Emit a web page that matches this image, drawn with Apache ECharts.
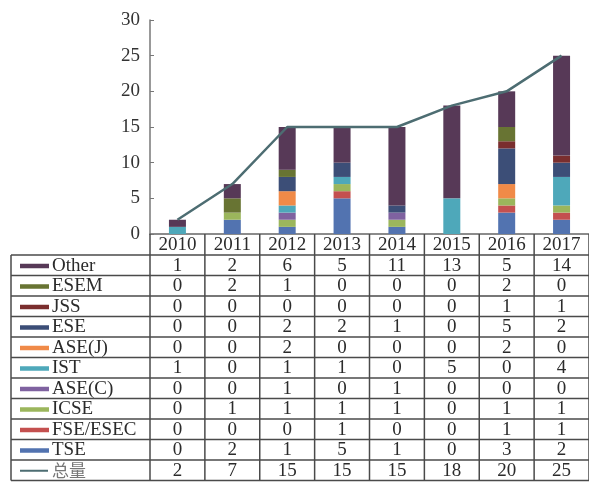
<!DOCTYPE html>
<html>
<head>
<meta charset="utf-8">
<script src="https://cdn.jsdelivr.net/npm/echarts@6/dist/echarts.min.js"></script>
<style>
html,body{margin:0;padding:0;background:#fff;}
#main{width:589px;height:482px;}
</style>
</head>
<body>
<div id="main"></div>
<script>
const years = ['2010','2011','2012','2013','2014','2015','2016','2017'];
const other = [1,2,6,5,11,13,5,14];
const esem  = [0,2,1,0,0,0,2,0];
const jss   = [0,0,0,0,0,0,1,1];
const ese   = [0,0,2,2,1,0,5,2];
const asej  = [0,0,2,0,0,0,2,0];
const ist   = [1,0,1,1,0,5,0,4];
const asec  = [0,0,1,0,1,0,0,0];
const icse  = [0,1,1,1,1,0,1,1];
const fse   = [0,0,0,1,0,0,1,1];
const tse   = [0,2,1,5,1,0,3,2];
const total = [2,7,15,15,15,18,20,25];
const yTicks = [0,5,10,15,20,25,30];

// stacking order bottom -> top
const barSeries = [
  {name:'TSE', data:tse, color:'#5273b0'},
  {name:'FSE/ESEC', data:fse, color:'#c4504f'},
  {name:'ICSE', data:icse, color:'#9bb65c'},
  {name:'ASE(C)', data:asec, color:'#7f62a0'},
  {name:'IST', data:ist, color:'#4ea8ba'},
  {name:'ASE(J)', data:asej, color:'#f08a48'},
  {name:'ESE', data:ese, color:'#3c4e77'},
  {name:'JSS', data:jss, color:'#7a2e2e'},
  {name:'ESEM', data:esem, color:'#687433'},
  {name:'Other', data:other, color:'#573957'}
];
const lineSeries = {name:'总量', data:total, color:'#4d6d72'};
// table row order
const tableRows = ['Other','ESEM','JSS','ESE','ASE(J)','IST','ASE(C)','ICSE','FSE/ESEC','TSE','总量'];

const FONT = '"Liberation Serif","Times New Roman",serif';
const chart = echarts.init(document.getElementById('main'), null, {renderer:'canvas'});
const series = barSeries.map(s => ({
  name: s.name, type:'bar', stack:'all', data:s.data, barWidth:17,
  itemStyle:{color:s.color}
}));
series.push({
  name: lineSeries.name, type:'line', data: lineSeries.data, symbol:'none',
  lineStyle:{color:lineSeries.color, width:2.5}, itemStyle:{color:lineSeries.color}, z:5
});
chart.setOption({
  animation:false,
  backgroundColor:'#ffffff',
  grid:{left:150, top:20, width:446, height:214, containLabel:false},
  xAxis:{type:'category', data:years, boundaryGap:true,
    axisLine:{show:true, lineStyle:{color:'#666', width:1.5}},
    axisTick:{show:false}, axisLabel:{show:false}},
  yAxis:{type:'value', min:0, max:30, interval:5,
    axisLine:{show:true, lineStyle:{color:'#777', width:1.5}},
    axisTick:{show:true, inside:true, length:4, lineStyle:{color:'#777'}},
    splitLine:{show:false},
    axisLabel:{fontFamily:FONT, fontSize:19, color:'#333', margin:10,
      formatter: v => yTicks.includes(v) ? String(v) : ''}},
  series: series
});

// Build data table aligned with the category axis
const centers = years.map(y => chart.convertToPixel({xAxisIndex:0}, y));
const band = centers[1] - centers[0];
const axisY = chart.convertToPixel({yAxisIndex:0}, 0);
const leftX = 11;
const axisX = centers[0] - band/2;
const rightX = centers[centers.length-1] + band/2;
const headerH = 21;
const rowH = 20.5;
const rowTop = axisY + headerH;
const nRows = tableRows.length;
const bottomY = rowTop + nRows*rowH;
const gfx = [];
const lineStyle = {stroke:'#4a4a4a', lineWidth:1.5};
function ln(x1,y1,x2,y2){ gfx.push({type:'line', shape:{x1,y1,x2,y2}, style:lineStyle, silent:true, z:10}); }
function tx(t,x,y,align,extra){
  gfx.push({type:'text', silent:true, z:11, style:Object.assign({
    text:t, x:x, y:y, font:'19px '+FONT, fill:'#2b2b2b',
    textAlign:align, textVerticalAlign:'middle', align:align, verticalAlign:'middle'
  }, extra||{})});
}
// column separators
for (let i=0;i<=years.length;i++){
  const x = axisX + i*band;
  ln(x, axisY, x, bottomY);
}
ln(leftX, rowTop, leftX, bottomY);
// horizontal row lines
for (let r=0;r<=nRows;r++){
  const y = rowTop + r*rowH;
  ln(leftX, y, rightX, y);
}
// header
years.forEach((y,i)=> tx(y, centers[i], axisY + headerH/2 + 0.5, 'center'));
// rows
const lookup = {};
barSeries.forEach(s => lookup[s.name] = s);
lookup[lineSeries.name] = lineSeries;
tableRows.forEach((name, r) => {
  const s = lookup[name];
  const cy = rowTop + r*rowH + rowH/2 + 0.5;
  if (name === '总量') {
    gfx.push({type:'line', silent:true, z:11, shape:{x1:20, y1:cy, x2:48, y2:cy}, style:{stroke:s.color, lineWidth:2}});
    tx(name, 52, cy, 'left', {font:'17px "Noto Sans CJK SC", sans-serif', fill:'#777'});
  } else {
    gfx.push({type:'rect', silent:true, z:11, shape:{x:20, y:cy-2, width:29, height:4.5}, style:{fill:s.color}});
    tx(name, 52, cy, 'left');
  }
  s.data.forEach((v,i)=> tx(String(v), centers[i], cy, 'center'));
});
chart.setOption({graphic: gfx});
</script>
</body>
</html>
